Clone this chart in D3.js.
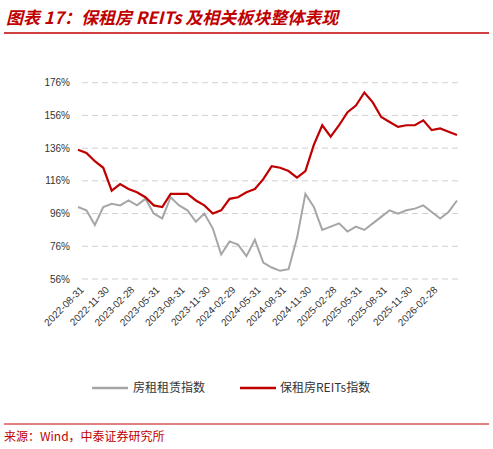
<!DOCTYPE html>
<html><head><meta charset="utf-8">
<script src="https://cdn.jsdelivr.net/npm/d3@7"></script>
<style>
body{margin:0;background:#fff;font-family:"Noto Sans CJK SC","Liberation Sans",sans-serif;}
.grid line{stroke:#d0d0d0;stroke-dasharray:6,4;}
.axis text{font-family:"Liberation Sans",Arial,sans-serif;font-size:10px;fill:#333;}
</style></head>
<body><svg id="c" width="493" height="449"></svg>
<script>
// monthly index, 0 = 2022-08
var tickLabels = ["2022-08-31","2022-11-30","2023-02-28","2023-05-31","2023-08-31","2023-11-30","2024-02-29","2024-05-31","2024-08-31","2024-11-30","2025-02-28","2025-05-31","2025-08-31","2025-11-30","2026-02-28"];
var rentIndex = [100,98,89,100,102,101,104,101,105,96,93,106,101,98,91,96,87,71,79,77,70,80,66,63,61,62,81,108,100,86,88,90,85,88,86,90,94,98,96,98,99,101,97,93,97,104];
var reitsIndex = [135,133,128,124,110,114,111,109,106,101,100,108,108,108,104,101,96,98,105,106,109,111,117,125,124,122,118,122,138,150,143,150,158,162,170,164,155,152,149,150,150,153,147,148,146,144];
var yTicks = [56,76,96,116,136,156,176];

var svg = d3.select("#c");

//title
svg.append("text").attr("x",6).attr("y",24)
.attr("fill","#c00000").attr("font-size",17).attr("font-weight","bold").attr("font-style","italic")
.text("图表 17：保租房 REITs 及相关板块整体表现");
svg.append("line").attr("x1",4).attr("x2",489).attr("y1",33).attr("y2",33).attr("stroke","#c00000").attr("stroke-width",1.5);

var x = d3.scaleLinear().domain([0, rentIndex.length-1]).range([78,457]);
var y = d3.scaleLinear().domain([56,176]).range([279,82.7]);

//grid
svg.append("g").attr("class","grid").selectAll("line").data(yTicks).enter().append("line")
.attr("x1",82).attr("x2",458).attr("y1",function(d){return y(d);}).attr("y2",function(d){return y(d);});

//y labels
svg.append("g").attr("class","axis").selectAll("text").data(yTicks).enter().append("text")
.attr("x",70).attr("y",function(d){return y(d);}).attr("dy","0.35em").attr("text-anchor","end")
.text(function(d){return d+"%";});

//x labels
svg.append("g").attr("class","axis").selectAll("text").data(tickLabels).enter().append("text")
.attr("transform",function(d,i){return "translate("+(x(i*3)+4)+",288) rotate(-45)";})
.attr("text-anchor","end").attr("dy","0.35em")
.text(function(d){return d;});

var line = d3.line().x(function(d,i){return x(i);}).y(function(d){return y(d);});

svg.append("path").datum(rentIndex).attr("d",line).attr("fill","none").attr("stroke","#a6a6a6").attr("stroke-width",2);
svg.append("path").datum(reitsIndex).attr("d",line).attr("fill","none").attr("stroke","#c00000").attr("stroke-width",2.2);

//legend
var lg = svg.append("g").attr("font-size",12).attr("fill","#333");
lg.append("line").attr("x1",92).attr("x2",128).attr("y1",388).attr("y2",388).attr("stroke","#a6a6a6").attr("stroke-width",2.5);
lg.append("text").attr("x",133).attr("y",392).text("房租租赁指数");
lg.append("line").attr("x1",240).attr("x2",276).attr("y1",388).attr("y2",388).attr("stroke","#c00000").attr("stroke-width",2.5);
lg.append("text").attr("x",280).attr("y",392).text("保租房REITs指数");

//source
svg.append("line").attr("x1",4).attr("x2",489).attr("y1",424).attr("y2",424).attr("stroke","#c00000").attr("stroke-width",1);
svg.append("text").attr("x",4).attr("y",441).attr("fill","#c00000").attr("font-size",12)
.text("来源：Wind，中泰证券研究所");
</script></body></html>
